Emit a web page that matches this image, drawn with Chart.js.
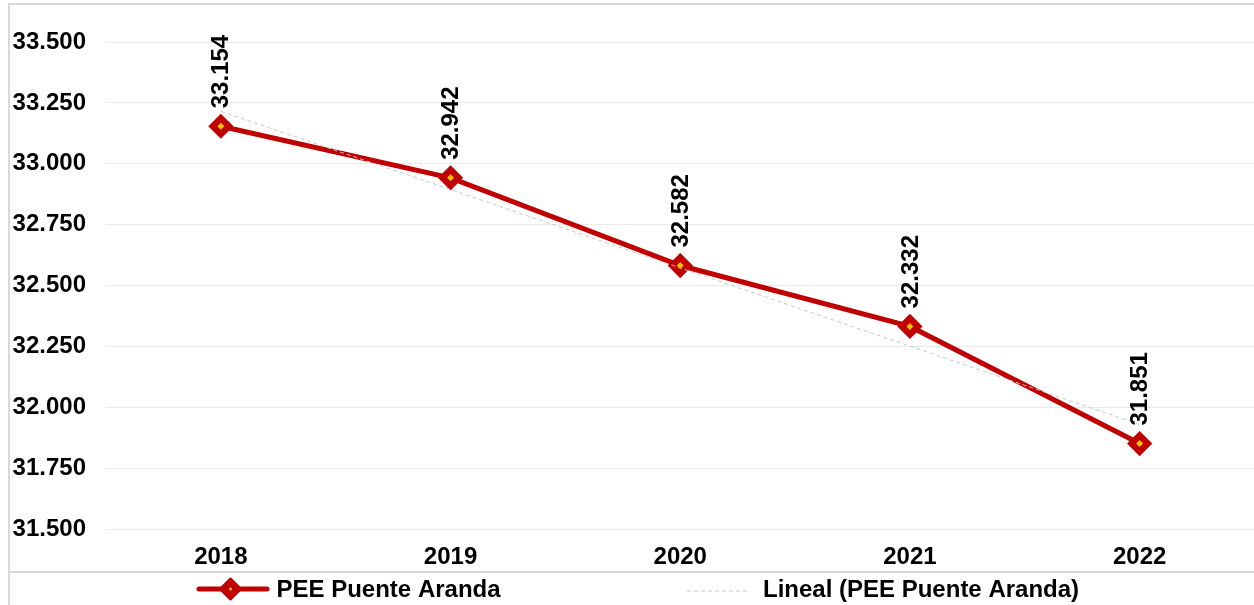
<!DOCTYPE html>
<html>
<head>
<meta charset="utf-8">
<script src="https://cdn.jsdelivr.net/npm/chart.js@4.4.0/dist/chart.umd.min.js"></script>
<style>
html, body { margin: 0; padding: 0; background: #fff; overflow: hidden; }
#frame { position: absolute; left: 8px; top: 3px; width: 1300px; height: 700px; border: 2px solid #d9d9d9; }
#wrap { position: absolute; left: 10px; top: 5px; width: 1258px; height: 600px; }
</style>
</head>
<body>
<div id="frame"></div>
<div id="wrap"><canvas id="myChart"></canvas></div>
<script>
// Chart data
const years = ['2018', '2019', '2020', '2021', '2022'];
const peeValues = [33.154, 32.942, 32.582, 32.332, 31.851];
// linear trend line values
const trendValues = [33.215, 32.894, 32.572, 32.251, 31.929];
const yMin = 31.5;
const yMax = 33.5;
const yStep = 0.25;

const seriesName = 'PEE Puente Aranda';
const trendName = 'Lineal (PEE Puente Aranda)';

const FONT = "'Liberation Sans', Arial, sans-serif";
const RED = '#C00000';
const GOLD = '#FFC000';

// draws the rotated value labels above each point
const valueLabels = {
    id: 'valueLabels',
    afterDatasetsDraw(chart) {
        const meta = chart.getDatasetMeta(2);
        const ctx = chart.ctx;
        ctx.save();
        ctx.font = 'bold 24px ' + FONT;
        ctx.fillStyle = '#000';
        ctx.textAlign = 'left';
        ctx.textBaseline = 'middle';
        meta.data.forEach((pt, i) => {
            ctx.save();
            ctx.translate(pt.x, pt.y - 18);
            ctx.rotate(-Math.PI / 2);
            ctx.fillText(peeValues[i].toFixed(3), 0, 1);
            ctx.restore();
        });
        ctx.restore();
    }
};

// separator line and the legend at the bottom
const bottomLegend = {
    id: 'bottomLegend',
    afterDraw(chart) {
        const ctx = chart.ctx;
        ctx.save();
        ctx.strokeStyle = '#d9d9d9';
        ctx.lineWidth = 2;
        ctx.beginPath();
        ctx.moveTo(0, 567);
        ctx.lineTo(chart.width, 567);
        ctx.stroke();

        const ly = 584;
        // item 1: line with diamond
        ctx.strokeStyle = RED;
        ctx.lineWidth = 5;
        ctx.lineCap = 'round';
        ctx.beginPath();
        ctx.moveTo(189, ly);
        ctx.lineTo(257, ly);
        ctx.stroke();
        ctx.fillStyle = RED;
        ctx.lineJoin = 'round';
        ctx.lineWidth = 3;
        ctx.beginPath();
        ctx.moveTo(220.5, ly - 10);
        ctx.lineTo(230.5, ly);
        ctx.lineTo(220.5, ly + 10);
        ctx.lineTo(210.5, ly);
        ctx.closePath();
        ctx.fill();
        ctx.stroke();
        ctx.fillStyle = GOLD;
        ctx.beginPath();
        ctx.arc(220.5, ly, 1.5, 0, Math.PI * 2);
        ctx.fill();

        ctx.font = 'bold 24px ' + FONT;
        ctx.fillStyle = '#000';
        ctx.textAlign = 'left';
        ctx.textBaseline = 'middle';
        ctx.fillText(seriesName, 266.5, ly + 1);

        // item 2: dashed trend line
        ctx.strokeStyle = '#c8c8c8';
        ctx.lineWidth = 1;
        ctx.lineCap = 'butt';
        ctx.setLineDash([4, 3]);
        ctx.beginPath();
        ctx.moveTo(677, ly + 2);
        ctx.lineTo(740, ly + 2);
        ctx.stroke();
        ctx.setLineDash([]);
        ctx.fillText(trendName, 753, ly + 1);
        ctx.restore();
    }
};

const ctx = document.getElementById('myChart').getContext('2d');

const myChart = new Chart(ctx, {
    type: 'line',
    data: {
        labels: years,
        datasets: [
            {
                label: 'dots',
                data: peeValues,
                showLine: false,
                pointStyle: 'rectRot',
                pointRadius: 3.5,
                pointBackgroundColor: GOLD,
                pointBorderWidth: 0,
                order: 0
            },
            {
                label: trendName,
                data: trendValues,
                borderColor: '#c8c8c8',
                borderWidth: 1,
                borderDash: [4, 3],
                pointRadius: 0,
                order: 1
            },
            {
                label: seriesName,
                data: peeValues,
                borderColor: RED,
                borderWidth: 5,
                pointStyle: 'rectRot',
                pointRadius: 10.5,
                pointBorderWidth: 3,
                pointBackgroundColor: RED,
                pointBorderColor: RED,
                order: 2
            }
        ]
    },
    options: {
        responsive: true,
        maintainAspectRatio: false,
        animation: false,
        layout: {
            padding: { top: 37, bottom: 28, left: 0, right: 0 }
        },
        plugins: {
            legend: { display: false },
            tooltip: { enabled: false }
        },
        scales: {
            x: {
                offset: true,
                grid: { display: false, drawTicks: false, offset: true },
                border: { display: false },
                ticks: {
                    color: '#000',
                    padding: 14,
                    font: { family: FONT, size: 24, weight: 'bold' }
                },
                afterFit: function(scale) { scale.height = 48; }
            },
            y: {
                min: yMin,
                max: yMax,
                grid: { color: '#e9e9e9', lineWidth: 1, drawTicks: false },
                border: { display: false },
                ticks: {
                    stepSize: yStep,
                    color: '#000',
                    padding: 20,
                    font: { family: FONT, size: 24, weight: 'bold' },
                    callback: function(value) { return value.toFixed(3); }
                },
                afterFit: function(scale) { scale.width = 96; }
            }
        }
    },
    plugins: [valueLabels, bottomLegend]
});
</script>
</body>
</html>
